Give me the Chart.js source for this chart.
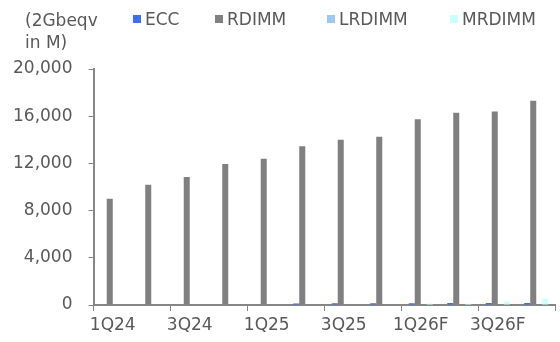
<!DOCTYPE html>
<html>
<head>
<meta charset="utf-8">
<script src="https://cdn.jsdelivr.net/npm/chart.js@4.4.1/dist/chart.umd.min.js"></script>
<style>
  html, body { margin: 0; padding: 0; background: #fff; }
  #caja { width: 560px; height: 342px; position: relative; }
</style>
</head>
<body>
<div id="caja"><canvas id="grafico"></canvas></div>
<script>
const trimestres = ['1Q24', '2Q24', '3Q24', '4Q24', '1Q25', '2Q25', '3Q25', '4Q25', '1Q26F', '2Q26F', '3Q26F', '4Q26F'];
const ecc    = [0, 0, 0, 0, 0, 130, 140, 150, 150, 160, 160, 170];
const rdimm  = [9000, 10200, 10850, 11950, 12400, 13450, 14000, 14250, 15750, 16300, 16400, 17300];
const lrdimm = [0, 0, 0, 0, 0, 0, 0, 0, 0, 0, 0, 0];
const mrdimm = [0, 0, 0, 0, 0, 0, 0, 0, 120, 100, 320, 520];
const yTicks = [0, 4000, 8000, 12000, 16000, 20000];
const unidad = ['(2Gbeqv', 'in M)'];

const gris = '#868686';
const texto = '#595959';

Chart.defaults.font.family = '"DejaVu Sans"';
Chart.defaults.font.size = 17;
Chart.defaults.color = texto;

// leyenda y unidad dibujadas a mano, como en el original
const leyendaManual = {
  id: 'leyendaManual',
  afterDraw(chart) {
    const ctx = chart.ctx;
    const posX = [133, 215, 327, 450];
    ctx.save();
    ctx.font = '17px "DejaVu Sans"';
    ctx.textBaseline = 'alphabetic';
    ctx.fillStyle = texto;
    ctx.fillText(unidad[0], 25, 26);
    ctx.fillText(unidad[1], 25, 47.5);
    chart.data.datasets.forEach((ds, i) => {
      ctx.fillStyle = ds.backgroundColor;
      ctx.fillRect(posX[i], 15, 8, 8);
      ctx.fillStyle = texto;
      ctx.fillText(ds.label, posX[i] + 12, 25);
    });
    ctx.restore();
  }
};

const ctx = document.getElementById('grafico').getContext('2d');
new Chart(ctx, {
  type: 'bar',
  data: {
    labels: trimestres,
    datasets: [
      { label: 'ECC', data: ecc, backgroundColor: '#3D6EF2' },
      { label: 'RDIMM', data: rdimm, backgroundColor: '#808080' },
      { label: 'LRDIMM', data: lrdimm, backgroundColor: '#9DC8F5' },
      { label: 'MRDIMM', data: mrdimm, backgroundColor: '#CCFFFF' }
    ]
  },
  options: {
    responsive: true,
    maintainAspectRatio: false,
    animation: false,
    datasets: {
      bar: { categoryPercentage: 0.625, barPercentage: 1 }
    },
    layout: { padding: { top: 69, right: 4.5, left: 0, bottom: 0 } },
    plugins: {
      legend: { display: false },
      title: { display: false },
      tooltip: { enabled: false }
    },
    scales: {
      x: {
        afterFit: s => { s.height = 37; },
        border: { color: gris, width: 2 },
        grid: {
          offset: true,
          drawOnChartArea: false,
          tickLength: 6,
          color: c => (c.index === undefined || c.index % 2 === 0) ? gris : 'rgba(0,0,0,0)'
        },
        ticks: {
          autoSkip: false,
          maxRotation: 0,
          padding: 4,
          color: texto,
          callback: function(v, i) { return i % 2 === 0 ? this.getLabelForValue(v) : ''; }
        }
      },
      y: {
        min: 0,
        max: 20000,
        afterFit: s => { s.width = 93.5; },
        afterBuildTicks: s => { s.ticks = yTicks.map(v => ({ value: v })); },
        border: { color: gris, width: 2 },
        grid: { drawOnChartArea: false, tickLength: 5, color: gris },
        ticks: {
          padding: 16,
          color: texto,
          callback: v => v.toLocaleString('en-US')
        }
      }
    }
  },
  plugins: [leyendaManual]
});
</script>
</body>
</html>
